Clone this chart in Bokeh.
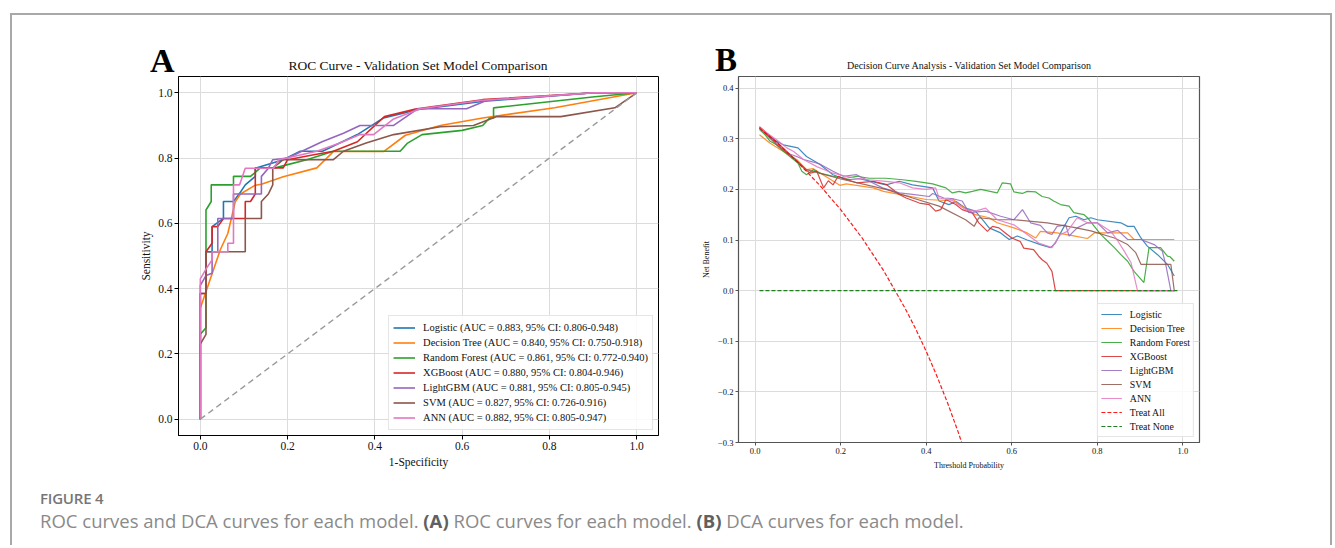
from bokeh.plotting import figure
from bokeh.models import (Legend, LegendItem, FixedTicker, PrintfTickFormatter,
                          CustomJSTickFormatter, Div, Range1d)
from bokeh.layouts import row, column
from bokeh.embed import file_html
from bokeh.resources import INLINE

SERIF = "Liberation Serif"

# ---------------- data ----------------
model_names = ["Logistic", "Decision Tree", "Random Forest", "XGBoost", "LightGBM", "SVM", "ANN"]
model_colors = ["#1f77b4", "#ff7f0e", "#2ca02c", "#d62728", "#9467bd", "#8c564b", "#e377c2"]
auc_values = ["0.883", "0.840", "0.861", "0.880", "0.881", "0.827", "0.882"]
ci_lower = ["0.806", "0.750", "0.772", "0.804", "0.805", "0.726", "0.805"]
ci_upper = ["0.948", "0.918", "0.940", "0.946", "0.945", "0.916", "0.947"]

axis_ticks_a = [0.0, 0.2, 0.4, 0.6, 0.8, 1.0]
axis_ticks_b_x = [0.0, 0.2, 0.4, 0.6, 0.8, 1.0]
axis_ticks_b_y = [-0.3, -0.2, -0.1, 0.0, 0.1, 0.2, 0.3, 0.4]

# ROC curves (false positive rate, true positive rate)
roc_logistic_fpr = [0, 0, 0.013, 0.013, 0.027, 0.027, 0.053, 0.053, 0.076, 0.09, 0.103, 0.126, 0.126, 0.19, 0.229, 0.28, 0.36, 0.42, 0.5, 0.65, 0.9, 1.0]
roc_logistic_tpr = [0, 0.385, 0.385, 0.513, 0.513, 0.59, 0.615, 0.667, 0.667, 0.692, 0.718, 0.744, 0.769, 0.795, 0.821, 0.821, 0.872, 0.923, 0.949, 0.974, 1.0, 1.0]
roc_tree_fpr = [0, 0, 0.046, 0.063, 0.08, 0.092, 0.126, 0.14, 0.19, 0.267, 0.305, 0.42, 0.47, 0.55, 0.647, 0.812, 1.0]
roc_tree_tpr = [0, 0.34, 0.52, 0.569, 0.666, 0.69, 0.717, 0.72, 0.743, 0.77, 0.82, 0.82, 0.87, 0.90, 0.923, 0.954, 1.0]
roc_forest_fpr = [0, 0, 0.013, 0.013, 0.025, 0.025, 0.076, 0.076, 0.115, 0.137, 0.168, 0.2, 0.244, 0.305, 0.458, 0.475, 0.508, 0.6, 0.647, 0.663, 0.672, 0.672, 0.904, 1.0]
roc_forest_tpr = [0, 0.26, 0.28, 0.641, 0.667, 0.718, 0.718, 0.744, 0.744, 0.769, 0.769, 0.78, 0.795, 0.821, 0.821, 0.846, 0.872, 0.885, 0.90, 0.923, 0.923, 0.954, 0.988, 1.0]
roc_xgb_fpr = [0, 0, 0.013, 0.013, 0.027, 0.027, 0.04, 0.053, 0.103, 0.103, 0.115, 0.126, 0.126, 0.19, 0.2, 0.26, 0.305, 0.36, 0.40, 0.422, 0.493, 0.647, 0.904, 1.0]
roc_xgb_tpr = [0, 0.385, 0.385, 0.513, 0.539, 0.59, 0.59, 0.615, 0.615, 0.667, 0.667, 0.69, 0.77, 0.77, 0.795, 0.81, 0.821, 0.85, 0.90, 0.927, 0.95, 0.979, 1.0, 1.0]
roc_lgbm_fpr = [0, 0, 0.013, 0.027, 0.027, 0.04, 0.04, 0.076, 0.076, 0.14, 0.14, 0.156, 0.166, 0.2, 0.279, 0.328, 0.366, 0.443, 0.498, 0.61, 0.657, 0.904, 1.0]
roc_lgbm_tpr = [0, 0.41, 0.44, 0.447, 0.513, 0.513, 0.615, 0.615, 0.69, 0.69, 0.744, 0.769, 0.795, 0.80, 0.85, 0.876, 0.90, 0.90, 0.951, 0.951, 0.977, 1.0, 1.0]
roc_svm_fpr = [0, 0, 0.013, 0.013, 0.103, 0.103, 0.14, 0.14, 0.156, 0.166, 0.166, 0.19, 0.305, 0.328, 0.38, 0.443, 0.55, 0.626, 0.678, 0.826, 0.95, 1.0]
roc_svm_tpr = [0, 0.23, 0.26, 0.513, 0.513, 0.615, 0.615, 0.667, 0.69, 0.718, 0.769, 0.795, 0.795, 0.821, 0.846, 0.872, 0.896, 0.90, 0.927, 0.927, 0.954, 1.0]
roc_ann_fpr = [0, 0, 0.013, 0.027, 0.027, 0.063, 0.063, 0.076, 0.076, 0.09, 0.103, 0.168, 0.18, 0.267, 0.32, 0.366, 0.397, 0.443, 0.504, 0.647, 0.904, 1.0]
roc_ann_tpr = [0, 0.43, 0.46, 0.488, 0.513, 0.513, 0.539, 0.539, 0.718, 0.718, 0.769, 0.769, 0.795, 0.821, 0.846, 0.872, 0.872, 0.92, 0.951, 0.977, 1.0, 1.0]
chance_x = [0.0, 1.0]
chance_y = [0.0, 1.0]

# Decision curves (threshold probability, net benefit)
dca_logistic_x = [0.01, 0.043, 0.066, 0.10, 0.12, 0.15, 0.182, 0.213, 0.244, 0.276, 0.306, 0.337, 0.368, 0.415, 0.43, 0.453, 0.47, 0.492, 0.515, 0.535, 0.547, 0.574, 0.594, 0.613, 0.636, 0.667, 0.691, 0.702, 0.718, 0.734, 0.75, 0.769, 0.785, 0.80, 0.855, 0.871, 0.886, 0.902, 0.917, 0.941, 0.964, 0.98]
dca_logistic_y = [0.322, 0.298, 0.288, 0.282, 0.265, 0.25, 0.229, 0.219, 0.221, 0.215, 0.209, 0.216, 0.209, 0.203, 0.177, 0.17, 0.176, 0.163, 0.157, 0.137, 0.124, 0.114, 0.101, 0.108, 0.10, 0.091, 0.085, 0.094, 0.12, 0.144, 0.147, 0.14, 0.144, 0.14, 0.134, 0.127, 0.127, 0.104, 0.088, 0.071, 0.052, 0.029]
dca_tree_x = [0.01, 0.035, 0.066, 0.097, 0.12, 0.136, 0.198, 0.213, 0.276, 0.30, 0.337, 0.40, 0.446, 0.462, 0.477, 0.492, 0.515, 0.547, 0.566, 0.605, 0.636, 0.656, 0.667, 0.706, 0.745, 0.777, 0.793, 0.871, 0.886, 0.98]
dca_tree_y = [0.308, 0.291, 0.275, 0.259, 0.239, 0.241, 0.208, 0.211, 0.203, 0.196, 0.19, 0.18, 0.178, 0.181, 0.17, 0.163, 0.15, 0.144, 0.134, 0.124, 0.114, 0.104, 0.117, 0.114, 0.108, 0.103, 0.114, 0.114, 0.101, 0.101]
dca_forest_x = [0.01, 0.023, 0.035, 0.05, 0.062, 0.081, 0.10, 0.109, 0.12, 0.136, 0.151, 0.182, 0.213, 0.237, 0.267, 0.306, 0.345, 0.376, 0.415, 0.446, 0.461, 0.477, 0.492, 0.508, 0.527, 0.566, 0.578, 0.597, 0.605, 0.625, 0.636, 0.656, 0.671, 0.687, 0.698, 0.714, 0.734, 0.745, 0.769, 0.777, 0.793, 0.808, 0.824, 0.84, 0.855, 0.871, 0.886, 0.909, 0.921, 0.948, 0.964, 0.97, 0.98]
dca_forest_y = [0.318, 0.308, 0.295, 0.288, 0.278, 0.265, 0.252, 0.236, 0.229, 0.239, 0.232, 0.226, 0.222, 0.226, 0.222, 0.222, 0.219, 0.216, 0.211, 0.203, 0.193, 0.196, 0.193, 0.196, 0.20, 0.193, 0.213, 0.211, 0.195, 0.192, 0.196, 0.195, 0.186, 0.183, 0.177, 0.17, 0.167, 0.154, 0.15, 0.144, 0.127, 0.111, 0.098, 0.085, 0.071, 0.058, 0.038, 0.016, 0.085, 0.085, 0.068, 0.067, 0.058]
dca_xgb_x = [0.01, 0.05, 0.08, 0.117, 0.13, 0.144, 0.16, 0.171, 0.182, 0.194, 0.206, 0.237, 0.276, 0.306, 0.337, 0.353, 0.384, 0.407, 0.422, 0.434, 0.446, 0.469, 0.484, 0.508, 0.523, 0.543, 0.555, 0.57, 0.585, 0.60, 0.62, 0.628, 0.651, 0.663, 0.671, 0.682, 0.694, 0.702, 0.98]
dca_xgb_y = [0.324, 0.294, 0.27, 0.239, 0.232, 0.236, 0.203, 0.217, 0.209, 0.226, 0.222, 0.213, 0.216, 0.21, 0.19, 0.183, 0.173, 0.17, 0.157, 0.16, 0.18, 0.17, 0.16, 0.153, 0.134, 0.117, 0.127, 0.124, 0.114, 0.104, 0.097, 0.084, 0.081, 0.068, 0.061, 0.054, 0.038, 0.0, 0.0]
dca_lgbm_x = [0.01, 0.05, 0.074, 0.097, 0.113, 0.136, 0.151, 0.182, 0.206, 0.237, 0.267, 0.298, 0.337, 0.368, 0.407, 0.415, 0.441, 0.46, 0.484, 0.50, 0.539, 0.574, 0.605, 0.625, 0.644, 0.667, 0.683, 0.694, 0.706, 0.726, 0.734, 0.753, 0.777, 0.80, 0.824, 0.848, 0.871, 0.902, 0.933, 0.952, 0.96, 0.972, 0.98]
dca_lgbm_y = [0.32, 0.291, 0.272, 0.265, 0.259, 0.254, 0.25, 0.236, 0.226, 0.229, 0.216, 0.203, 0.193, 0.19, 0.186, 0.192, 0.183, 0.182, 0.177, 0.154, 0.157, 0.147, 0.14, 0.16, 0.134, 0.129, 0.114, 0.111, 0.127, 0.13, 0.108, 0.124, 0.134, 0.134, 0.114, 0.119, 0.101, 0.101, 0.091, 0.078, 0.052, 0.0, 0.0]
dca_svm_x = [0.01, 0.05, 0.09, 0.12, 0.198, 0.26, 0.306, 0.368, 0.43, 0.492, 0.512, 0.523, 0.57, 0.605, 0.683, 0.745, 0.785, 0.84, 0.871, 0.89, 0.902, 0.972, 0.98]
dca_svm_y = [0.322, 0.288, 0.262, 0.239, 0.221, 0.209, 0.20, 0.183, 0.167, 0.14, 0.127, 0.144, 0.14, 0.14, 0.134, 0.125, 0.118, 0.104, 0.091, 0.075, 0.052, 0.052, 0.0]
dca_ann_x = [0.01, 0.05, 0.074, 0.09, 0.113, 0.144, 0.182, 0.213, 0.237, 0.267, 0.306, 0.337, 0.368, 0.40, 0.422, 0.43, 0.461, 0.492, 0.515, 0.539, 0.566, 0.605, 0.636, 0.663, 0.694, 0.714, 0.73, 0.753, 0.777, 0.80, 0.832, 0.848, 0.863, 0.879, 0.894, 0.98]
dca_ann_y = [0.322, 0.298, 0.282, 0.275, 0.259, 0.245, 0.232, 0.226, 0.222, 0.219, 0.216, 0.213, 0.203, 0.20, 0.203, 0.183, 0.178, 0.16, 0.157, 0.163, 0.14, 0.13, 0.111, 0.094, 0.085, 0.111, 0.117, 0.144, 0.134, 0.134, 0.117, 0.098, 0.078, 0.055, 0.0, 0.0]
treat_all_x = [0.01, 0.05, 0.10, 0.15, 0.20, 0.25, 0.30, 0.35, 0.375, 0.40, 0.425, 0.45, 0.475, 0.50]
treat_all_y = [0.321, 0.293, 0.253, 0.209, 0.160, 0.104, 0.040, -0.034, -0.075, -0.120, -0.169, -0.222, -0.280, -0.344]
treat_none_x = [0.01, 0.99]
treat_none_y = [0.0, 0.0]

roc_x = [roc_logistic_fpr, roc_tree_fpr, roc_forest_fpr, roc_xgb_fpr, roc_lgbm_fpr, roc_svm_fpr, roc_ann_fpr]
roc_y = [roc_logistic_tpr, roc_tree_tpr, roc_forest_tpr, roc_xgb_tpr, roc_lgbm_tpr, roc_svm_tpr, roc_ann_tpr]
dca_x = [dca_logistic_x, dca_tree_x, dca_forest_x, dca_xgb_x, dca_lgbm_x, dca_svm_x, dca_ann_x]
dca_y = [dca_logistic_y, dca_tree_y, dca_forest_y, dca_xgb_y, dca_lgbm_y, dca_svm_y, dca_ann_y]


def style_axes(p, ticks_x, ticks_y, fmt_x, fmt_y, tick_size, label_size, line_color, tick_out, label_standoff):
    p.xaxis.ticker = FixedTicker(ticks=ticks_x)
    p.yaxis.ticker = FixedTicker(ticks=ticks_y)
    p.xaxis.formatter = fmt_x
    p.yaxis.formatter = fmt_y
    for ax in (p.xaxis, p.yaxis):
        ax.major_tick_out = tick_out
        ax.major_tick_in = 0
        ax.minor_tick_line_color = None
        ax.major_label_standoff = 2
        ax.major_label_text_font = SERIF
        ax.major_label_text_font_size = tick_size
        ax.major_label_text_color = "#111111"
        ax.axis_label_text_font = SERIF
        ax.axis_label_text_font_size = label_size
        ax.axis_label_text_font_style = "normal"
        ax.axis_label_text_color = "#111111"
        ax.axis_label_standoff = label_standoff
        ax.axis_line_color = line_color
        ax.major_tick_line_color = line_color
    p.grid.grid_line_color = "#dcdcdc"
    p.grid.grid_line_width = 1
    p.outline_line_color = line_color
    p.outline_line_alpha = 1.0
    p.background_fill_color = "white"
    p.border_fill_color = "white"


# ---------------- panel A : ROC ----------------
pa = figure(frame_width=480, frame_height=359, min_border_left=166, min_border_right=22,
            min_border_top=2, min_border_bottom=40,
            x_range=Range1d(-0.05, 1.05), y_range=Range1d(-0.05, 1.05),
            output_backend="svg", toolbar_location=None)
style_axes(pa, axis_ticks_a, axis_ticks_a, PrintfTickFormatter(format="%.1f"),
           PrintfTickFormatter(format="%.1f"), "11.5px", "11.5px", "#000000", 4, 3)
pa.xaxis.axis_label = "1-Specificity"
pa.yaxis.axis_label = "Sensitivity"

items_a = []
for i, name in enumerate(model_names):
    n = min(len(roc_x[i]), len(roc_y[i]))
    r = pa.line(roc_x[i][:n], roc_y[i][:n], line_color=model_colors[i], line_width=1.6)
    label = f"{name} (AUC = {auc_values[i]}, 95% CI: {ci_lower[i]}-{ci_upper[i]})"
    items_a.append(LegendItem(label=label, renderers=[r]))
pa.line(chance_x, chance_y, line_color="#9a9a9a", line_width=1.4, line_dash="6 4")

legend_a = Legend(items=items_a, location="bottom_right", margin=5, padding=4, spacing=0,
                  label_height=15, glyph_height=15, glyph_width=22, label_standoff=8,
                  label_text_font=SERIF, label_text_font_size="10.5px",
                  label_text_color="#111111",
                  border_line_color="#cccccc", border_line_width=1,
                  background_fill_color="white", background_fill_alpha=0.85)
pa.add_layout(legend_a)

# ---------------- panel B : DCA ----------------
pb = figure(frame_width=461, frame_height=366, min_border_left=58, min_border_right=131,
            min_border_top=1, min_border_bottom=34,
            x_range=Range1d(-0.039, 1.039), y_range=Range1d(-0.3, 0.423),
            output_backend="svg", toolbar_location=None)
minus_fmt = CustomJSTickFormatter(code="return (tick < -1e-9 ? '\u2212' : '') + Math.abs(tick).toFixed(1);")
style_axes(pb, axis_ticks_b_x, axis_ticks_b_y, PrintfTickFormatter(format="%.1f"), minus_fmt,
           "8.5px", "8px", "#555555", 3, 4)
pb.outline_line_width = 1.2
pb.xaxis.axis_label = "Threshold Probability"
pb.yaxis.axis_label = "Net Benefit"

items_b = []
for i, name in enumerate(model_names):
    n = min(len(dca_x[i]), len(dca_y[i]))
    r = pb.line(dca_x[i][:n], dca_y[i][:n], line_color=model_colors[i], line_width=1.2, line_alpha=0.85)
    items_b.append(LegendItem(label=name, renderers=[r]))
r_all = pb.line(treat_all_x, treat_all_y, line_color="#ff0000", line_width=1.2, line_dash="4 2", line_alpha=0.9)
r_none = pb.line(treat_none_x, treat_none_y, line_color="#1f7f1f", line_width=1.2, line_dash="4 2")
items_b.append(LegendItem(label="Treat All", renderers=[r_all]))
items_b.append(LegendItem(label="Treat None", renderers=[r_none]))

legend_b = Legend(items=items_b, location="bottom_right", margin=5, padding=3, spacing=0,
                  label_height=14, glyph_height=14, glyph_width=21, label_standoff=8,
                  label_text_font=SERIF, label_text_font_size="9.8px",
                  label_text_color="#111111",
                  border_line_color="#cccccc", border_line_width=1,
                  background_fill_color="white", background_fill_alpha=0.85)
pb.add_layout(legend_b)

# ---------------- panel letters and titles ----------------
header_html = (
    "<div style=\"position:relative;width:1318px;height:59px;font-family:'Liberation Serif',serif;color:#111;\">"
    "<div style=\"position:absolute;left:138px;top:29px;font-size:34px;line-height:34px;font-weight:bold;color:#000;\">A</div>"
    "<div style=\"position:absolute;left:206px;width:400px;top:44px;font-size:13.5px;line-height:13.5px;text-align:center;white-space:nowrap;\">ROC Curve - Validation Set Model Comparison</div>"
    "<div style=\"position:absolute;left:703px;top:29px;font-size:33px;line-height:33px;font-weight:bold;color:#000;\">B</div>"
    "<div style=\"position:absolute;left:757px;width:400px;top:46px;font-size:10px;line-height:10px;text-align:center;white-space:nowrap;\">Decision Curve Analysis - Validation Set Model Comparison</div>"
    "</div>"
)
header = Div(text=header_html, width=1318, height=59, margin=0)

# ---------------- caption ----------------
caption_html = (
    "<div style=\"font-family:'Open Sans',sans-serif;font-weight:600;font-size:15px;"
    "color:#767676;line-height:18px;margin:14px 0 0 28px;letter-spacing:-0.2px;\">FIGURE 4</div>"
    "<div style=\"font-family:'Open Sans',sans-serif;font-weight:400;font-size:18.5px;"
    "color:#8a8a8a;line-height:22px;margin:3px 0 0 28px;white-space:nowrap;\">"
    "ROC curves and DCA curves for each model. <b style='color:#606060'>(A)</b> ROC curves for each model. "
    "<b style='color:#606060'>(B)</b> DCA curves for each model.</div>"
)
caption = Div(text=caption_html, width=1318, height=70, margin=0)

p = column(header, row(pa, pb), caption, margin=(13, 0, 0, 10),
           styles={"border-top": "2px solid #a8a8a8", "border-left": "2px solid #a8a8a8",
                   "border-right": "2px solid #a8a8a8"})

open("out.html", "w").write(file_html(p, INLINE))
